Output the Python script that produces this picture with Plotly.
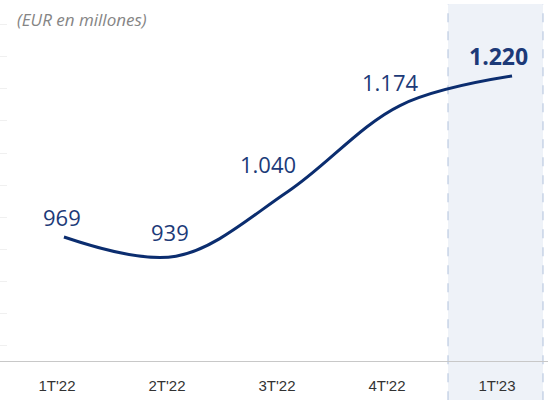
import plotly.graph_objs as go

# Datos
trimestres = ["1T'22", "2T'22", "3T'22", "4T'22", "1T'23"]
valores = [969, 939, 1040, 1174, 1220]
etiquetas = ["969", "939", "1.040", "1.174", "<b>1.220</b>"]

azul = '#0b2d6f'
azul_txt = '#1c3a78'

fig = go.Figure()

# linea principal (eje x2, algo desplazado respecto a las etiquetas)
fig.add_trace(go.Scatter(
    x=trimestres, y=valores,
    xaxis='x2',
    mode='lines',
    line=dict(color=azul, width=3, shape='spline', smoothing=1.0),
    hoverinfo='skip',
    showlegend=False))

# traza invisible para las etiquetas del eje x
fig.add_trace(go.Scatter(
    x=trimestres, y=valores,
    mode='markers', marker=dict(opacity=0),
    hoverinfo='skip', showlegend=False))

# etiquetas de valor
desplaz = [(-2, 20), (-6, 24), (-20, 27), (-10, 24), (-14, 20)]
for t, v, txt, (dx, dy) in zip(trimestres, valores, etiquetas, desplaz):
    fig.add_annotation(
        x=t, y=v, xref='x2', yref='y', text=txt, showarrow=False,
        xshift=dx, yshift=dy,
        font=dict(family='Open Sans', size=23 if '<b>' in txt else 22, color=azul_txt))

# titulo
fig.add_annotation(
    x=15 / 548, y=1 + (4 - 20) / 357, xref='paper', yref='paper',
    text='<i>(EUR en millones)</i>',
    showarrow=False, xanchor='left', yanchor='middle',
    font=dict(family='Open Sans', size=17, color='#858585'))

# zona resaltada del ultimo trimestre
x0, x1 = 448 / 548, 543 / 548
fig.add_shape(type='rect', xref='paper', yref='paper', x0=x0, x1=x1, y0=-0.11, y1=1,
              fillcolor='#eef2f8', line=dict(width=0), layer='below')
for xx in (x0, x1):
    fig.add_shape(type='line', xref='paper', yref='paper', x0=xx, x1=xx, y0=-0.11, y1=1,
                  line=dict(color='#b0c1dc', width=1, dash='dash'), layer='below')

# Configuracion
fig.update_layout(
    width=548,
    height=400,
    margin=dict(l=0, r=0, t=4, b=39),
    plot_bgcolor='rgba(0,0,0,0)',
    paper_bgcolor='white',
    xaxis=dict(
        type='category',
        categoryarray=trimestres,
        range=[-0.518, 4.464],
        showgrid=False,
        zeroline=False,
        showline=True,
        linecolor='#c8c8c8',
        linewidth=1,
        ticks='',
        ticklabelstandoff=11,
        tickfont=dict(family='Liberation Sans', size=15, color='#333333')),
    xaxis2=dict(
        type='category',
        categoryarray=trimestres,
        range=[-0.571, 4.321],
        overlaying='x',
        visible=False),
    yaxis=dict(
        range=[775.7, 1332.3],
        showgrid=False,
        zeroline=False,
        showticklabels=False,
        ticks='inside',
        ticklen=7,
        tickcolor='#f0f0f0',
        dtick=50,
        tick0=800),
)

fig.write_html("out.html", config={'displayModeBar': False},
               post_script="document.body.style.margin='0';")
